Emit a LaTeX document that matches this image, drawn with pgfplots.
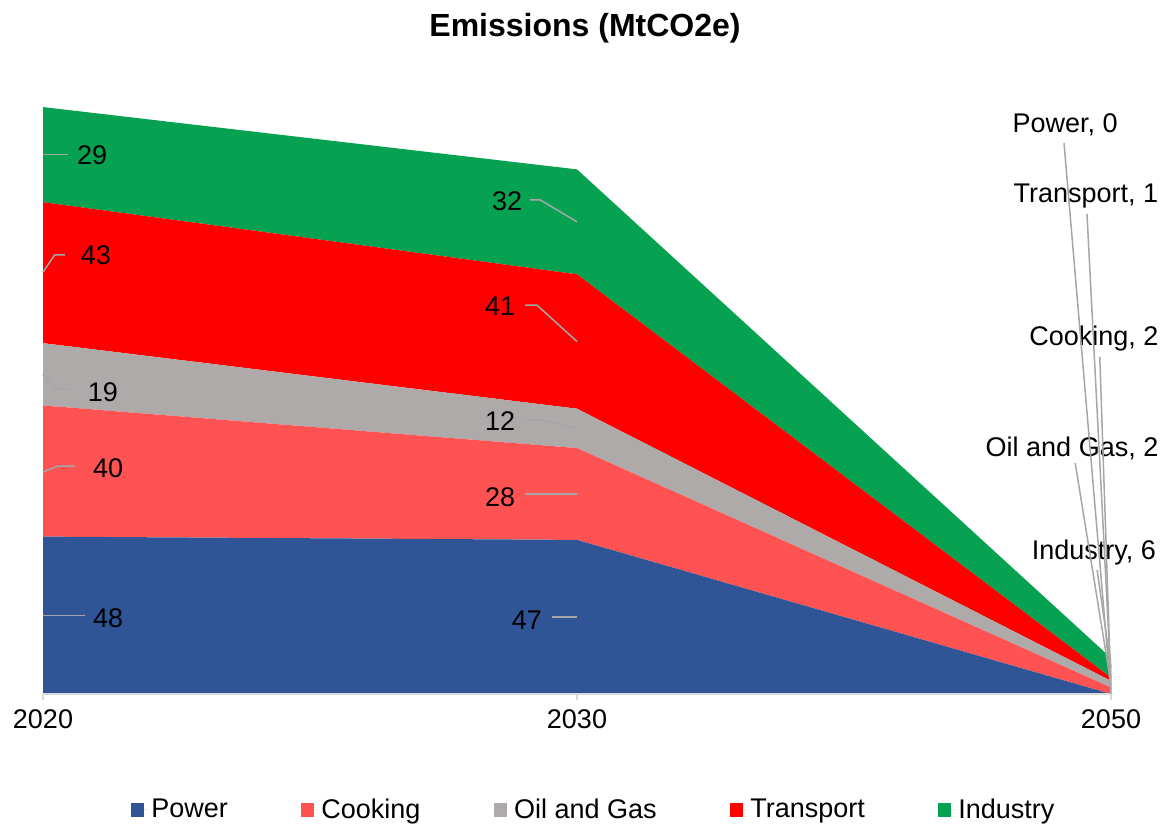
\documentclass[border=0pt]{standalone}
\usepackage{fontspec}
\setmainfont{Liberation Sans}
\usepackage{pgfplots}
\pgfplotsset{compat=1.18}

\definecolor{cPower}{HTML}{2F5597}
\definecolor{cCook}{HTML}{FF5353}
\definecolor{cOil}{HTML}{AEAAAA}
\definecolor{cTrans}{HTML}{FF0000}
\definecolor{cInd}{HTML}{07A251}
\definecolor{cLead}{HTML}{A6A6A6}
\definecolor{cAxis}{HTML}{D9D9D9}

\newcommand\lab{\fontsize{13.5pt}{16pt}\selectfont}
\tikzset{lead/.style={cLead, line width=0.75pt}, dl/.style={font=\lab, inner sep=0pt}}

\begin{document}
\begin{tikzpicture}
\begin{axis}[
  set layers=standard,
  scale only axis,
  width=534pt, height=303.3pt,
  xmin=0, xmax=2, ymin=0, ymax=185,
  stack plots=y,
  clip=false,
  axis y line=none,
  axis x line*=bottom,
  x axis line style={cAxis, line width=0.75pt, -},
  xtick={0,1,2},
  xticklabels={2020,2030,2050},
  tick align=outside,
  major tick length=3pt,
  x tick style={cAxis, line width=0.75pt},
  xticklabel style={font=\lab, yshift=-1.5pt},
  /pgf/number format/assume math mode=true,
  legend columns=-1,
  legend style={at={(0.516,-0.191)}, anchor=center, draw=none, font=\lab,
    nodes={inner sep=1.5pt}, /tikz/every even column/.append style={column sep=35pt}},
  legend image code/.code={\fill[#1] (0pt,-3.4pt) rectangle (6.8pt,3.4pt);
    \path (0pt,0pt) -- (8.8pt,0pt);},
  every axis plot/.append style={on layer=axis background},
]
\addplot[fill=cPower, draw=none] coordinates {(0,48) (1,47) (2,0)} \closedcycle;
\addplot[fill=cCook, draw=none] coordinates {(0,40) (1,28) (2,2)} \closedcycle;
\addplot[fill=cOil, draw=none] coordinates {(0,19) (1,12) (2,2)} \closedcycle;
\addplot[fill=cTrans, draw=none] coordinates {(0,43) (1,41) (2,1)} \closedcycle;
\addplot[fill=cInd, draw=none] coordinates {(0,29) (1,32) (2,6)} \closedcycle;
\legend{Power, Cooking, Oil and Gas, Transport, Industry}

% title
\node[font=\bfseries\fontsize{16pt}{19pt}\selectfont] at (axis cs:1.015,203.1) {Emissions (MtCO2e)};

% leader lines
\draw[lead] (axis cs:0,24) -- (axis cs:0.079,24);
\draw[lead] (axis cs:0,67.7) -- (axis cs:0.028,69.5) -- (axis cs:0.06,69.5);
\draw[lead] (axis cs:0,97.3) -- (axis cs:0.028,93) -- (axis cs:0.05,93);
\draw[lead] (axis cs:0,128.7) -- (axis cs:0.022,133.9) -- (axis cs:0.041,133.9);
\draw[lead] (axis cs:0,164.5) -- (axis cs:0.047,164.5);
\draw[lead] (axis cs:0.953,23.5) -- (axis cs:1,23.5);
\draw[lead] (axis cs:0.903,61) -- (axis cs:1,61);
\draw[lead] (axis cs:0.903,83.6) -- (axis cs:0.936,83.6) -- (axis cs:1,81);
\draw[lead] (axis cs:0.903,118.6) -- (axis cs:0.925,118.6) -- (axis cs:1,107.5);
\draw[lead] (axis cs:0.912,150.7) -- (axis cs:0.931,150.7) -- (axis cs:1,144);
\draw[lead] (axis cs:1.912,168.0) -- (axis cs:2,0);
\draw[lead] (axis cs:1.955,146.4) -- (axis cs:2,4.5);
\draw[lead] (axis cs:1.979,102.8) -- (axis cs:2,1);
\draw[lead] (axis cs:1.933,70.4) -- (axis cs:2,3);
\draw[lead] (axis cs:1.974,37.8) -- (axis cs:2,8);

% data labels
\node[dl] at (axis cs:0.122,23.2) {48};
\node[dl] at (axis cs:0.122,68.9) {40};
\node[dl] at (axis cs:0.112,92.1) {19};
\node[dl] at (axis cs:0.099,133.9) {43};
\node[dl] at (axis cs:0.092,164.4) {29};
\node[dl] at (axis cs:0.906,22.6) {47};
\node[dl] at (axis cs:0.856,60.1) {28};
\node[dl] at (axis cs:0.856,83.3) {12};
\node[dl] at (axis cs:0.856,118.3) {41};
\node[dl] at (axis cs:0.869,150.4) {32};
\node[dl] at (axis cs:1.914,173.5) {Power, 0};
\node[dl] at (axis cs:1.953,151.9) {Transport, 1};
\node[dl] at (axis cs:1.968,108.3) {Cooking, 2};
\node[dl] at (axis cs:1.927,75.0) {Oil and Gas, 2};
\node[dl] at (axis cs:1.968,43.3) {Industry, 6};
\end{axis}
\pgfresetboundingbox
\path[use as bounding box] (-21.5pt,-65.5pt) rectangle (559.5pt,347pt);
\end{tikzpicture}
\end{document}
